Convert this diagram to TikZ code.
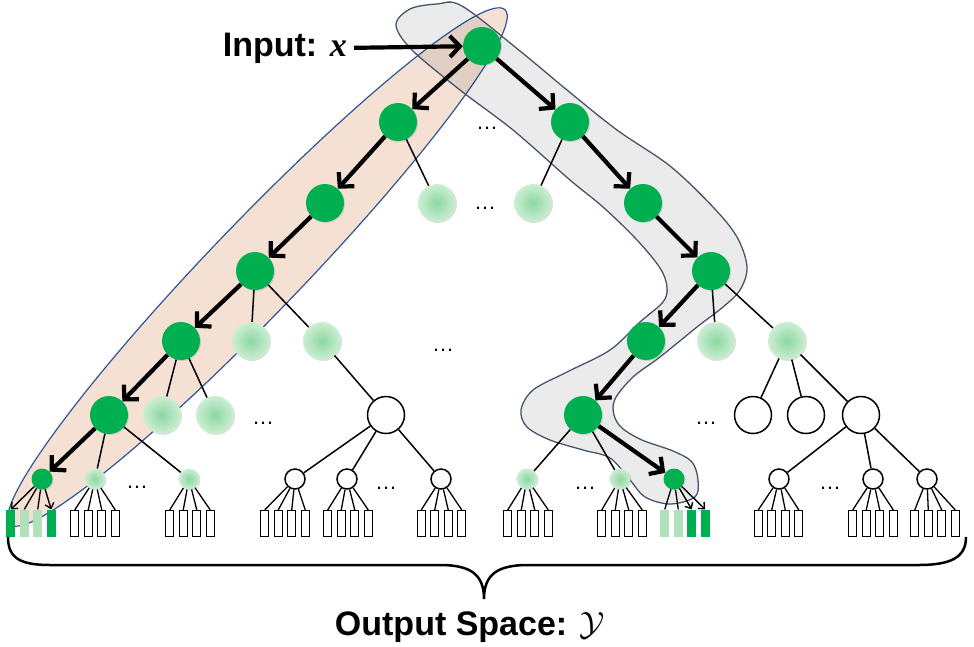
\documentclass[tikz,border=0pt]{standalone}
\usepackage{graphicx}
\usepackage{fontspec}
\setmainfont{Liberation Sans}
\newfontfamily\xserif{Liberation Serif}
\usetikzlibrary{arrows.meta,shadows,calc}
\definecolor{dgreen}{RGB}{0,176,80}
\definecolor{lgin}{RGB}{140,215,162}
\definecolor{lgout}{RGB}{205,238,211}
\definecolor{lbox}{RGB}{175,226,188}
\definecolor{peach}{RGB}{245,225,212}
\definecolor{bandblue}{RGB}{47,85,151}
\definecolor{bandgray}{RGB}{68,84,106}
\begin{document}
\begin{tikzpicture}[x=1pt,y=-1pt,
  gn/.style={circle, fill=dgreen, minimum size=38pt, inner sep=0pt,
    drop shadow={opacity=0.25, shadow xshift=1pt, shadow yshift=-1pt}},
  ln/.style={circle, inner color=lgin, outer color=lgout, minimum size=38pt, inner sep=0pt,
    drop shadow={opacity=0.25, shadow xshift=1pt, shadow yshift=-1pt}},
  wn/.style={circle, draw=black, line width=1.5pt, fill=white, minimum size=37pt, inner sep=0pt},
  sgn/.style={gn, minimum size=21pt},
  sln/.style={ln, minimum size=21pt},
  swn/.style={wn, minimum size=20pt},
  lf/.style={rectangle, draw=black, line width=1.2pt, fill=white, minimum width=8pt, minimum height=26pt, inner sep=0pt},
  lfg/.style={lf, draw=none, fill=dgreen, minimum width=9pt, minimum height=27pt},
  lfl/.style={lf, draw=none, fill=lbox, minimum width=9pt, minimum height=27pt},
  thinedge/.style={line width=1.5pt},
  leafedge/.style={line width=1.3pt},
  thickarrow/.style={line width=4.2pt, -{Straight Barb[length=10pt,width=21pt]}},
  smallarrow/.style={line width=1.4pt, -{Straight Barb[length=5pt,width=9pt]}},
  dotsnode/.style={inner sep=0pt, font=\fontsize{22}{22}\selectfont},
  labeltext/.style={inner sep=0pt, font=\fontsize{34}{36}\selectfont\bfseries}
]
\useasboundingbox (0,0) rectangle (974,646);

% highlighted bands
\draw[bandblue, line width=1.2pt, fill=peach, rotate around={46.1:(257.5,267)}]
  (257.5,267) ellipse [x radius=357pt, y radius=46pt];
\draw[bandgray, line width=1.3pt, fill=black, fill opacity=0.08]
  plot[smooth cycle, tension=0.55] coordinates {
  (396,25) (410,9) (437,4) (462,6) (520,51) (567,90) (617,130) (670,166) (713,207)
  (737,237) (747,267) (740,290) (723,307) (697,327) (660,357) (633,377) (615,399)
  (614,415) (622,428) (642,440) (673,451) (692,462) (698,480) (695,497) (670,504)
  (645,497) (630,480) (610,458) (583,450) (550,440) (527,427) (521,410) (533,390)
  (567,372) (610,350) (640,322) (663,302) (667,287) (660,268) (637,240) (603,207)
  (570,180) (513,130) (460,90) (412,50)};

% tree nodes
\node[gn] (r) at (482,46) {};
\node[gn] (a1) at (398,122) {};
\node[gn] (b1) at (570,122) {};
\node[gn] (a2) at (325,203) {};
\node[ln] (c2) at (437,203) {};
\node[ln] (d2) at (533,203) {};
\node[gn] (b2) at (643,203) {};
\node[gn] (a3) at (255,271) {};
\node[gn] (b3) at (711,271) {};
\node[gn] (a4) at (181,341) {};
\node[ln] (a4b) at (251,341) {};
\node[ln] (a4c) at (322,341) {};
\node[gn] (b4) at (646,341) {};
\node[ln] (b4b) at (716,341) {};
\node[ln] (b4c) at (787,341) {};
\node[gn] (a5) at (109,415) {};
\node[ln] (a5b) at (162,415) {};
\node[ln] (a5c) at (215,415) {};
\node[wn] (w5) at (386,415) {};
\node[gn] (b5) at (583,415) {};
\node[wn] (v1) at (753,415) {};
\node[wn] (v2) at (806,415) {};
\node[wn] (v3) at (861,415) {};

\node[sgn] (s1) at (42,479) {};
\node[sln] (s2) at (95,479) {};
\node[sln] (s3) at (189,479) {};
\node[swn] (s4) at (295,479) {};
\node[swn] (s5) at (347,479) {};
\node[swn] (s6) at (441,479) {};
\node[sln] (s7) at (527,479) {};
\node[sln] (s8) at (620,479) {};
\node[sgn] (s9) at (674,479) {};
\node[swn] (s10) at (779,479) {};
\node[swn] (s11) at (873,479) {};
\node[swn] (s12) at (927,479) {};

% dots
\node[dotsnode] (d1) at (487,128) {\ldots};
\node[dotsnode] (d2dots) at (485,208) {\ldots};
\node[dotsnode] (d4) at (443,350) {\ldots};
\node[dotsnode] (d5a) at (263,423) {\ldots};
\node[dotsnode] (d5b) at (706,423) {\ldots};
\node[dotsnode] (d6a) at (137,487) {\ldots};
\node[dotsnode] (d6b) at (386,488) {\ldots};
\node[dotsnode] (d6c) at (585,488) {\ldots};
\node[dotsnode] (d6d) at (830,488) {\ldots};

% edges
\draw[thickarrow] (r) -- (a1);
\draw[thickarrow] (r) -- (b1);
\draw[thickarrow] (a1) -- (a2);
\draw[thinedge] (a1) -- (c2);
\draw[thinedge] (b1) -- (d2);
\draw[thickarrow] (b1) -- (b2);
\draw[thickarrow] (a2) -- (a3);
\draw[thickarrow] (b2) -- (b3);
\draw[thickarrow] (a3) -- (a4);
\draw[thinedge] (a3) -- (a4b);
\draw[thinedge] (a3) -- (a4c);
\draw[thickarrow] (b3) -- (b4);
\draw[thinedge] (b3) -- (b4b);
\draw[thinedge] (b3) -- (b4c);
\draw[thickarrow] (a4) -- (a5);
\draw[thinedge] (a4) -- (a5b);
\draw[thinedge] (a4) -- (a5c);
\draw[thinedge] (a4c) -- (w5);
\draw[thickarrow] (b4) -- (b5);
\draw[thinedge] (b4c) -- (v1);
\draw[thinedge] (b4c) -- (v2);
\draw[thinedge] (b4c) -- (v3);
\draw[thickarrow] (a5) -- (s1);
\draw[thinedge] (a5) -- (s2);
\draw[thinedge] (a5) -- (s3);
\draw[thinedge] (w5) -- (s4);
\draw[thinedge] (w5) -- (s5);
\draw[thinedge] (w5) -- (s6);
\draw[thinedge] (b5) -- (s7);
\draw[thinedge] (b5) -- (s8);
\draw[thickarrow] (b5) -- (s9);
\draw[thinedge] (v3) -- (s10);
\draw[thinedge] (v3) -- (s11);
\draw[thinedge] (v3) -- (s12);

% leaves: plain groups
\foreach \i/\c in {2/95,3/190,4/285,5/348,6/441.5,7/528,8/622,10/778.5,11/873,12/935}{
  \foreach \k/\o in {1/-20.25,2/-6.75,3/6.75,4/20.25}{
    \node[lf] (l\i-\k) at ({\c+(\o)},523.5) {};
    \draw[leafedge] (s\i) -- (l\i-\k.north);
  }
}
% leaves: highlighted groups
\node[lfg] (l1-1) at (10.75,523.5) {};
\node[lfl] (l1-2) at (24.25,523.5) {};
\node[lfl] (l1-3) at (37.75,523.5) {};
\node[lfg] (l1-4) at (51.25,523.5) {};
\draw[smallarrow] (s1) -- (l1-1.north);
\draw[leafedge] (s1) -- (l1-2.north);
\draw[leafedge] (s1) -- (l1-3.north);
\draw[smallarrow] (s1) -- (l1-4.north);
\node[lfl] (l9-1) at (664.75,523.5) {};
\node[lfl] (l9-2) at (678.25,523.5) {};
\node[lfg] (l9-3) at (691.75,523.5) {};
\node[lfg] (l9-4) at (705.25,523.5) {};
\draw[leafedge] (s9) -- (l9-1.north);
\draw[leafedge] (s9) -- (l9-2.north);
\draw[smallarrow] (s9) -- (l9-3.north);
\draw[smallarrow] (s9) -- (l9-4.north);

% input
\node[labeltext, anchor=base east] (inp) at (347,56) {Input: {\xserif\bfseries\itshape x}};
\draw[thickarrow] ([xshift=7pt]inp.east) -- (r);

% brace and output label
\coordinate (bl) at (8,537);
\coordinate (bt) at (484,599);
\coordinate (br) at (966,537);
\draw[line width=2.5pt] (bl) .. controls (8,558) and (20,565) .. (50,565) -- (440,565)
  .. controls (470,565) and (484,574) .. (bt)
  .. controls (484,574) and (498,565) .. (528,565) -- (918,565)
  .. controls (950,565) and (966,558) .. (br);
\node[labeltext, anchor=base] (out) at (470,635) {Output Space: \scalebox{1.35}{$\mathcal{Y}$}};
\end{tikzpicture}
\end{document}
